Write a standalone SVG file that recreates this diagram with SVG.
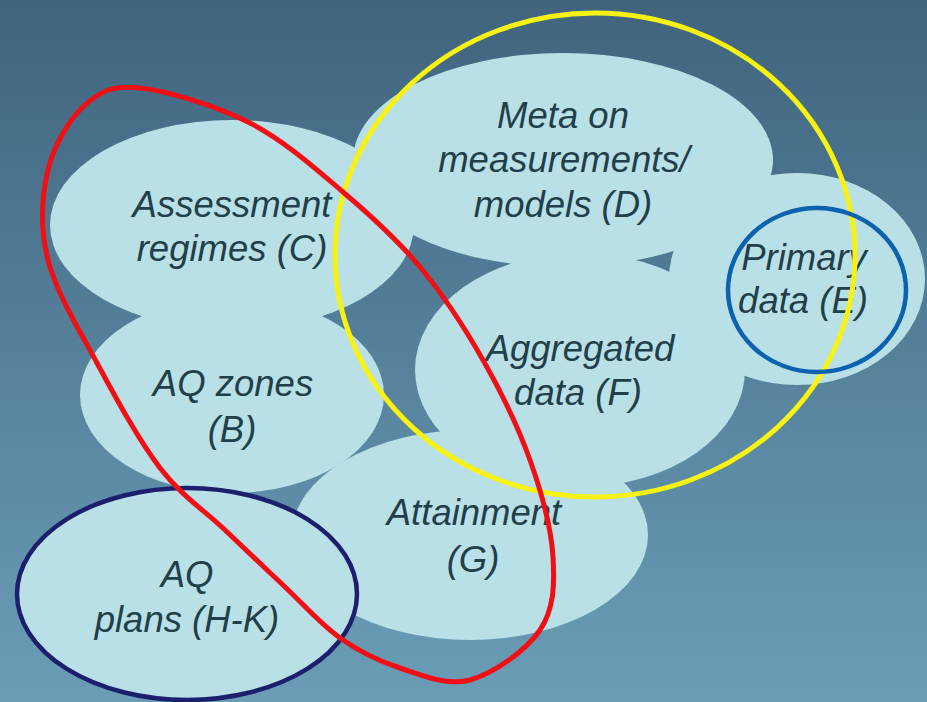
<svg xmlns="http://www.w3.org/2000/svg" width="927" height="702" viewBox="0 0 927 702">
  <defs>
    <linearGradient id="bg" x1="0" y1="0" x2="0" y2="1">
      <stop offset="0" stop-color="#40647e"/>
      <stop offset="1" stop-color="#6b9db7"/>
    </linearGradient>
  </defs>
  <style>
    .blob { fill: #b9e0e6; }
    .label { font-family: "Liberation Sans", Arial, sans-serif; font-style: italic; font-size: 36.5px; fill: #1f3f4a; text-anchor: middle; }
    .ring { fill: none; }
    .red { stroke: #f00f14; stroke-width: 5; }
    .yellow { stroke: #f7f213; stroke-width: 5; }
    .blue { stroke: #0d62b0; stroke-width: 4.5; }
    .navy { stroke: #1b1f6c; stroke-width: 4.5; }
  </style>

  <rect width="927" height="702" fill="url(#bg)"/>

  <!-- information blocks -->
  <g id="node-C">
    <ellipse class="blob" cx="232" cy="225" rx="182" ry="105"/>
  </g>
  <g id="node-B">
    <ellipse class="blob" cx="232" cy="395" rx="152" ry="98"/>
  </g>
  <g id="node-D">
    <ellipse class="blob" cx="563" cy="160" rx="210" ry="107"/>
  </g>
  <g id="node-E">
    <ellipse class="blob" cx="797" cy="279" rx="128" ry="106"/>
  </g>
  <g id="node-F">
    <ellipse class="blob" cx="580" cy="370" rx="165" ry="117"/>
  </g>
  <g id="node-G">
    <ellipse class="blob" cx="470" cy="535" rx="178" ry="105"/>
  </g>
  <g id="node-HK">
    <ellipse class="blob" cx="187" cy="594" rx="170" ry="106"/>
  </g>

  <!-- labels -->
  <g id="labels">
    <text class="label" x="232" y="217">Assessment</text>
    <text class="label" x="232" y="261">regimes (C)</text>
    <text class="label" x="233" y="396">AQ zones</text>
    <text class="label" x="232" y="442">(B)</text>
    <text class="label" x="563" y="128">Meta on</text>
    <text class="label" x="564" y="172">measurements/</text>
    <text class="label" x="563" y="217">models (D)</text>
    <text class="label" x="804" y="270">Primary</text>
    <text class="label" x="803" y="313">data (E)</text>
    <text class="label" x="580" y="361">Aggregated</text>
    <text class="label" x="578" y="405">data (F)</text>
    <text class="label" x="474" y="525">Attainment</text>
    <text class="label" x="473" y="572">(G)</text>
    <text class="label" x="187" y="587">AQ</text>
    <text class="label" x="187" y="632">plans (H-K)</text>
  </g>

  <!-- grouping rings -->
  <g id="connectors">
    <ellipse class="ring yellow" cx="595" cy="255" rx="260" ry="242"/>
    <ellipse class="ring blue" cx="817" cy="290" rx="89" ry="82"/>
    <ellipse class="ring navy" cx="187" cy="594" rx="170" ry="106"/>
    <path class="ring red" d="M140,88 C167.5,91 216.2,105.7 250,123 C283.8,140.3 314.7,168 343,192 C371.3,216 396.7,239 420,267 C443.3,295 464.7,327.8 483,360 C501.3,392.2 518.3,427.2 530,460 C541.7,492.8 551.3,528.7 553,557 C554.7,585.3 553.8,609.5 540,630 C526.2,650.5 493.3,673.7 470,680 C446.7,686.3 421.7,675 400,668 C378.3,661 359.5,651.8 340,638 C320.5,624.2 302.2,603 283,585 C263.8,567 245.5,549.5 225,530 C204.5,510.5 181.3,495.8 160,468 C138.7,440.2 115.7,397.7 97,363 C78.3,328.3 56.2,292.2 48,260 C39.8,227.8 41.8,195.8 48,170 C54.2,144.2 69.7,118.7 85,105 C100.3,91.3 112.5,85 140,88 Z"/>
  </g>
</svg>
